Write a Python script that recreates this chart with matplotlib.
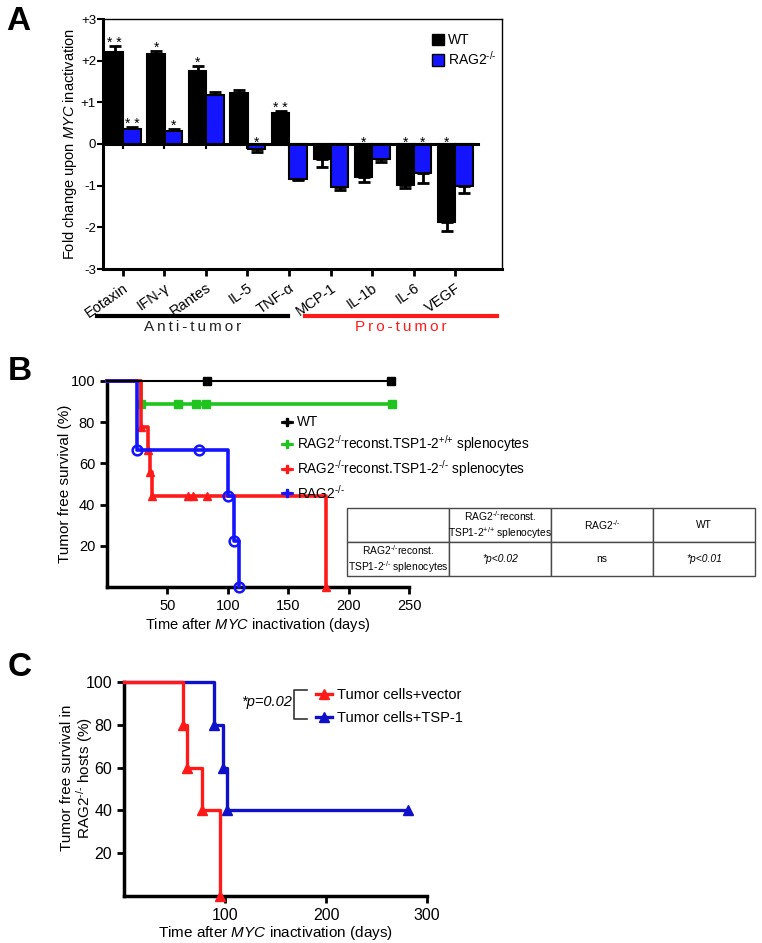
import numpy as np
import matplotlib
matplotlib.use('Agg')
import matplotlib.pyplot as plt
from matplotlib.lines import Line2D
from matplotlib.patches import Patch

plt.rcParams['font.family'] = ['Liberation Sans', 'DejaVu Sans']
plt.rcParams['mathtext.fontset'] = 'custom'
plt.rcParams['mathtext.rm'] = 'Liberation Sans'
plt.rcParams['mathtext.it'] = 'Liberation Sans:italic'
plt.rcParams['mathtext.bf'] = 'Liberation Sans:bold'

KO = '$^{\\text{-/-}}$'
WTSUP = '$^{\\text{+/+}}$'

# ---- panel A data
cytokines = ['Eotaxin', 'IFN-γ', 'Rantes', 'IL-5', 'TNF-α', 'MCP-1', 'IL-1b', 'IL-6', 'VEGF']
wt_fold = [2.20, 2.15, 1.75, 1.23, 0.75, -0.37, -0.80, -0.98, -1.87]
wt_err = [0.15, 0.08, 0.12, 0.07, 0.04, 0.18, 0.10, 0.07, 0.21]
rag_fold = [0.35, 0.32, 1.17, -0.12, -0.85, -1.03, -0.37, -0.70, -1.00]
rag_err = [0.05, 0.04, 0.07, 0.07, 0.02, 0.08, 0.05, 0.23, 0.17]
wt_stars = ['* *', '*', '*', '', '* *', '', '*', '*', '*']
rag_stars = ['* *', '*', '', '*', '', '', '', '*', '']
a_yticks = [-3, -2, -1, 0, 1, 2, 3]
a_yticklabels = ['-3', '-2', '-1', '0', '+1', '+2', '+3']

# ---- panel B data (Kaplan-Meier)
wt_t = [0, 83, 235]
wt_s = [100, 100, 100]
gr_t = [0, 28, 59, 74, 82, 236]
gr_s = [100, 88.9, 88.9, 88.9, 88.9, 88.9]
red_t = [0, 28, 34, 36, 37.5, 181]
red_s = [100, 77.8, 66.7, 55.6, 44.4, 0]
red_cens_t = [67, 71, 83]
red_cens_s = [44.4, 44.4, 44.4]
blu_t = [0, 25, 100, 105, 109]
blu_s = [100, 66.7, 44.4, 22.2, 0]
blu_cens_t = [76]
blu_cens_s = [66.7]
b_labels = ['WT',
            'RAG2' + KO + 'reconst.TSP1-2' + WTSUP + ' splenocytes',
            'RAG2' + KO + 'reconst.TSP1-2' + KO + ' splenocytes',
            'RAG2' + KO]
table_cols = ['RAG2' + KO + 'reconst.\nTSP1-2' + WTSUP + ' splenocytes', 'RAG2' + KO, 'WT']
table_row = 'RAG2' + KO + 'reconst.\nTSP1-2' + KO + ' splenocytes'
table_vals = ['*p<0.02', 'ns', '*p<0.01']

# ---- panel C data
vec_t = [0, 58, 62, 77, 95]
vec_s = [100, 80, 60, 40, 0]
tsp_t = [0, 89, 98, 102, 281]
tsp_s = [100, 80, 60, 40, 40]
c_labels = ['Tumor cells+vector', 'Tumor cells+TSP-1']

W, H = 762, 943
fig = plt.figure(figsize=(W / 100, H / 100), dpi=100)

def px_axes(l, t, r, b):
    return fig.add_axes([l / W, 1 - b / H, (r - l) / W, (b - t) / H])

BLUE = '#1414ff'
RED = '#ff1a1a'
GREEN = '#1fc41f'
DBLUE = '#1010c8'

# ================= A =================
ax = px_axes(103, 19, 502, 269)
x = np.arange(len(cytokines))
bw = 0.42
wt_fold = np.array(wt_fold); rag_fold = np.array(rag_fold)
wt_err = np.array(wt_err); rag_err = np.array(rag_err)

for xs, vals, errs, col in [(x - 0.2, wt_fold, wt_err, 'black'), (x + 0.22, rag_fold, rag_err, BLUE)]:
    ax.bar(xs, vals, width=bw, color=col, edgecolor='black', linewidth=1.5, zorder=3)
    lo = np.where(vals < 0, errs, 0)
    hi = np.where(vals >= 0, errs, 0)
    ax.errorbar(xs, vals, yerr=[lo, hi], fmt='none', ecolor='black', elinewidth=2,
                capsize=4.5, capthick=2, zorder=2)

for xs, vals, errs, stars in [(x - 0.2, wt_fold, wt_err, wt_stars), (x + 0.22, rag_fold, rag_err, rag_stars)]:
    for xi, v, e, s in zip(xs, vals, errs, stars):
        if not s:
            continue
        yb = v + e - 0.02 if v >= 0 else -0.07
        ax.text(xi, yb, s, ha='center', va='baseline', fontsize=10, zorder=5)

ax.axhline(0, xmin=0, xmax=(8.55 + 0.48) / (9.13 + 0.48), color='black', lw=2.2, zorder=4)
ax.vlines(x, -0.13, 0, color='black', lw=1.5, zorder=1)
ax.set_xlim(-0.48, 9.13)
ax.set_ylim(-3, 3)
ax.set_yticks(a_yticks)
ax.set_yticklabels(a_yticklabels, fontsize=9.5)
ax.set_xticks(x)
ax.set_xticklabels(cytokines, rotation=35, ha='right', va='top', rotation_mode='anchor', fontsize=10.5)
ax.tick_params(axis='both', width=2, length=5)
ax.tick_params(axis='y', pad=1, length=4, width=1.5)
for sp in ['left', 'bottom']:
    ax.spines[sp].set_linewidth(2.2)
for sp in ['top', 'right']:
    ax.spines[sp].set_linewidth(1.0)
ax.set_ylabel('Fold change upon $\\mathit{MYC}$ inactivation', fontsize=10.5, labelpad=1)

ax.legend([Patch(facecolor='black', edgecolor='black'), Patch(facecolor=BLUE, edgecolor='black')],
          ['WT', 'RAG2' + KO], loc='upper left', bbox_to_anchor=(0.81, 0.965),
          frameon=False, fontsize=10, handlelength=0.9, handleheight=0.9,
          handletextpad=0.3, labelspacing=0.2, borderaxespad=0)

tr = ax.get_xaxis_transform()
ax.plot([-0.63, 3.98], [-0.188, -0.188], transform=tr, color='black', lw=3, clip_on=False)
ax.plot([4.39, 9.01], [-0.188, -0.188], transform=tr, color=RED, lw=3, clip_on=False)
ts = '\u2009'
ax.text(1.68, -0.232, ts.join('Anti-tumor'), transform=tr, ha='center', va='center',
        fontsize=11, color='#222222')
ax.text(6.70, -0.232, ts.join('Pro-tumor'), transform=tr, ha='center', va='center',
        fontsize=11, color=RED)

# ================= B =================
bx = px_axes(107, 381, 409, 587)
bx.plot(wt_t, wt_s, drawstyle='steps-post', color='black', lw=1.5, marker='s', ms=6,
        markevery=slice(1, None), clip_on=False, zorder=5)
bx.plot(gr_t, gr_s, drawstyle='steps-post', color=GREEN, lw=2.6, marker='s', ms=6,
        markevery=slice(1, None), clip_on=False, zorder=3)
bx.plot(red_t, red_s, drawstyle='steps-post', color=RED, lw=2.6, marker='^', ms=6,
        markevery=slice(1, None), clip_on=False, zorder=4)
bx.plot(red_cens_t, red_cens_s, ls='none', color=RED, marker='^', ms=6, zorder=4)
bx.plot(blu_t, blu_s, drawstyle='steps-post', color=BLUE, lw=2.6, marker='o', ms=7,
        mfc='none', mew=1.8, markevery=slice(1, None), clip_on=False, zorder=4)
bx.plot(blu_cens_t, blu_cens_s, ls='none', color=BLUE, marker='o', ms=7, mfc='none', mew=1.8, zorder=4)
bx.set_xlim(0, 250)
bx.set_ylim(0, 100)
bx.set_xticks([50, 100, 150, 200, 250])
bx.set_yticks([20, 40, 60, 80, 100])
bx.tick_params(axis='both', width=2, length=5, labelsize=10.5)
for sp in ['top', 'right']:
    bx.spines[sp].set_visible(False)
for sp in ['left', 'bottom']:
    bx.spines[sp].set_linewidth(2.5)
bx.set_ylabel('Tumor free survival (%)', fontsize=11, labelpad=-1)
bx.set_xlabel('Time after $\\mathit{MYC}$ inactivation (days)', fontsize=10.5, labelpad=2)
b_handles = [Line2D([], [], color=c, lw=2, marker='P', ms=6) for c in ['black', GREEN, RED, BLUE]]
bx.legend(b_handles, b_labels, loc='upper left', bbox_to_anchor=(0.56, 0.86), frameon=False,
          fontsize=9.8, handlelength=0.8, handletextpad=0.3, labelspacing=0.3, borderaxespad=0)

tab = px_axes(347, 508, 755, 576)
tab.axis('off')
cells = [[''] + table_cols, [table_row] + table_vals]
tbl = tab.table(cellText=cells, bbox=[0, 0, 1, 1], cellLoc='center')
tbl.auto_set_font_size(False)
tbl.set_fontsize(7.4)
for (r, c), cell in tbl.get_celld().items():
    cell.set_edgecolor('#4a4a4a')
    cell.set_linewidth(1.0)
    cell.PAD = 0.02
    if r == 1 and c > 0 and table_vals[c - 1].startswith('*'):
        cell.get_text().set_fontstyle('italic')

# ================= C =================
cx = px_axes(124, 682, 427, 896)
cx.plot(vec_t, vec_s, drawstyle='steps-post', color=RED, lw=2.4, marker='^', ms=7,
        markevery=slice(1, None), clip_on=False, zorder=4)
cx.plot(tsp_t, tsp_s, drawstyle='steps-post', color=DBLUE, lw=2.4, marker='^', ms=7,
        markevery=slice(1, None), clip_on=False, zorder=3)
cx.set_xlim(0, 300)
cx.set_ylim(0, 100)
cx.set_xticks([100, 200, 300])
cx.set_yticks([20, 40, 60, 80, 100])
cx.tick_params(axis='both', width=2, length=5, labelsize=11.5)
for sp in ['top', 'right']:
    cx.spines[sp].set_visible(False)
for sp in ['left', 'bottom']:
    cx.spines[sp].set_linewidth(2.5)
cx.set_ylabel('Tumor free survival in\nRAG2' + KO + ' hosts (%)', fontsize=11,
              linespacing=1.05)
cx.yaxis.set_label_coords(-0.095, 0.55)
cx.set_xlabel('Time after $\\mathit{MYC}$ inactivation (days)', fontsize=11, labelpad=1)
c_handles = [Line2D([], [], color=c, lw=2.4, marker='^', ms=7) for c in [RED, DBLUE]]
cx.legend(c_handles, c_labels, loc='upper left', bbox_to_anchor=(0.615, 1.0), frameon=False,
          fontsize=10.5, handlelength=1.1, handletextpad=0.3, labelspacing=0.65, borderaxespad=0)
cx.plot([0.604, 0.561, 0.561, 0.604], [0.963, 0.963, 0.827, 0.827], transform=cx.transAxes,
        color='#333333', lw=1.2, clip_on=False)
cx.text(0.553, 0.905, '*p=0.02', transform=cx.transAxes, ha='right', va='center',
        fontsize=10.5, style='italic')

# panel letters
fig.text(6 / W, 1 - 21 / H, 'A', fontsize=24, weight='bold', va='center', ha='left')
fig.text(8 / W, 1 - 371 / H, 'B', fontsize=24, weight='bold', va='center', ha='left')
fig.text(8 / W, 1 - 668 / H, 'C', fontsize=24, weight='bold', va='center', ha='left')

fig.savefig('out.png', dpi=100)
